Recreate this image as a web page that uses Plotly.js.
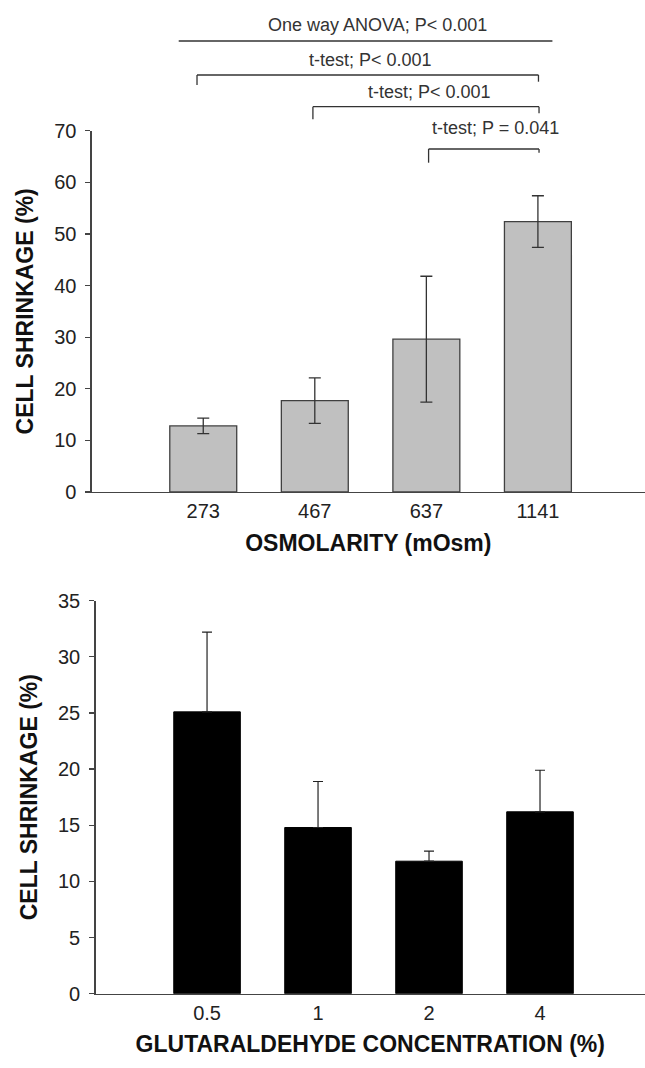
<!DOCTYPE html>
<html>
<head>
<meta charset="utf-8">
<script src="https://cdn.plot.ly/plotly-3.0.1.min.js"></script>
<style>html,body{margin:0;padding:0;background:#fff;}#chart{width:645px;height:1068px;}</style>
</head>
<body>
<div id="chart"></div>
<script>
// ---- data ----
const osmolarity = ['273', '467', '637', '1141'];
const shrinkageOsm = [12.8, 17.7, 29.6, 52.4];
const errorOsm = [1.5, 4.4, 12.2, 5.0];

const glutaraldehyde = ['0.5', '1', '2', '4'];
const shrinkageGlu = [25.1, 14.8, 11.8, 16.2];
const errorGlu = [7.1, 4.1, 0.9, 3.7];
const errorGluMinus = [0, 0, 0, 0];

const osmTicks = [0, 10, 20, 30, 40, 50, 60, 70];
const gluTicks = [0, 5, 10, 15, 20, 25, 30, 35];

const anovaLabel = 'One way ANOVA; P< 0.001';
const tTestLabels = ['t-test; P< 0.001', 't-test; P< 0.001', 't-test; P = 0.041'];
const tTestFrom = [0, 1, 2];   // compared against category index 3 (1141)
const tTestTo = [3, 3, 3];

// ---- layout helpers ----
const W = 645, H = 1068;
const py = p => 1 - p / H;       // pixel row -> paper fraction
const FONT = 'Liberation Sans, Arial, Helvetica, sans-serif';
const AX = '#444';
const TXT = '#222';

const traces = [
  {
    type: 'bar', x: osmolarity, y: shrinkageOsm,
    xaxis: 'x', yaxis: 'y',
    marker: {color: '#c0c0c0', line: {color: '#404040', width: 1.3}},
    error_y: {type: 'data', array: errorOsm, visible: true, color: '#333', thickness: 1.3, width: 6},
    hoverinfo: 'x+y'
  },
  {
    type: 'bar', x: glutaraldehyde, y: shrinkageGlu,
    xaxis: 'x2', yaxis: 'y2',
    marker: {color: '#000', line: {color: '#000', width: 1}},
    error_y: {type: 'data', symmetric: false, array: errorGlu, arrayminus: errorGluMinus, visible: true, color: '#222', thickness: 1.2, width: 5},
    hoverinfo: 'x+y'
  }
];

const tickFont = {family: FONT, size: 20, color: TXT};
const titleFont = {family: FONT, size: 23, color: '#111', weight: 'bold'};
const noteFont = {family: FONT, size: 18, color: '#333'};

function xAxis(domain, anchor, title) {
  return {
    domain: domain, anchor: anchor, type: 'category',
    showline: true, linecolor: AX, linewidth: 1.3,
    ticks: '', showgrid: false, zeroline: false,
    tickfont: tickFont, ticklabelstandoff: 1,
    title: {text: '<b>' + title + '</b>', font: titleFont, standoff: 13},
    fixedrange: true
  };
}
function yAxis(domain, anchor, range, title, tickvals) {
  return {
    domain: domain, anchor: anchor, range: range,
    tickmode: 'array', tickvals: tickvals,
    showline: true, linecolor: AX, linewidth: 1.3,
    ticks: 'outside', ticklen: 5, tickwidth: 1.3, tickcolor: AX,
    showgrid: false, zeroline: false,
    tickfont: tickFont, ticklabelstandoff: 5,
    title: {text: '<b>' + title + '</b>', font: titleFont, standoff: 14},
    fixedrange: true
  };
}

const layout = {
  width: W, height: H,
  margin: {l: 0, r: 0, t: 0, b: 0, autoexpand: false},
  paper_bgcolor: '#fff', plot_bgcolor: '#fff',
  showlegend: false, bargap: 0.4,
  font: {family: FONT, color: TXT},
  xaxis: Object.assign(xAxis([91.7 / W, 1], 'y', 'OSMOLARITY (mOsm)'), {range: [-1.0, 3.96]}),
  yaxis: yAxis([py(492), py(130.7)], 'x', [0, 70], 'CELL SHRINKAGE (%)', osmTicks),
  xaxis2: Object.assign(xAxis([95.5 / W, 1], 'y2', 'GLUTARALDEHYDE CONCENTRATION (%)'), {range: [-1.005, 3.946]}),
  yaxis2: yAxis([py(993.7), py(600.7)], 'x2', [0, 35], 'CELL SHRINKAGE (%)', gluTicks),
  annotations: [],
  shapes: []
};

// ANOVA line and label
const lineStyle = {color: '#333', width: 1.3};
layout.shapes.push({type: 'line', xref: 'x', yref: 'paper', x0: -0.22, x1: 3.13, y0: py(41), y1: py(41), line: lineStyle});
layout.annotations.push({xref: 'x', yref: 'paper', x: 1.564, y: py(25), text: anovaLabel, showarrow: false,
  font: noteFont, xanchor: 'center', yanchor: 'middle'});

// t-test brackets
const bracketY = [75, 106.7, 149];
const leftDrop = [85, 119.3, 162.7];
const rightDrop = [81.7, 113.3, 152.7];
const labelY = [60, 92, 128];
const labelX = [1.496, 2.025, 2.616];
const leftOffset = [-0.056, -0.017, 0.02];
const rightOffset = [0.005, 0.01, 0.01];
tTestLabels.forEach((lab, i) => {
  const xa = tTestFrom[i] + leftOffset[i], xb = tTestTo[i] + rightOffset[i];
  layout.shapes.push({type: 'line', xref: 'x', yref: 'paper', x0: xa, x1: xb, y0: py(bracketY[i]), y1: py(bracketY[i]), line: lineStyle});
  layout.shapes.push({type: 'line', xref: 'x', yref: 'paper', x0: xa, x1: xa, y0: py(bracketY[i]), y1: py(leftDrop[i]), line: lineStyle});
  layout.shapes.push({type: 'line', xref: 'x', yref: 'paper', x0: xb, x1: xb, y0: py(bracketY[i]), y1: py(rightDrop[i]), line: lineStyle});
  layout.annotations.push({xref: 'x', yref: 'paper', x: labelX[i], y: py(labelY[i]), text: lab, showarrow: false,
    font: noteFont, xanchor: 'center', yanchor: 'middle'});
});

Plotly.newPlot('chart', traces, layout, {displayModeBar: false, staticPlot: true});
</script>
</body>
</html>
